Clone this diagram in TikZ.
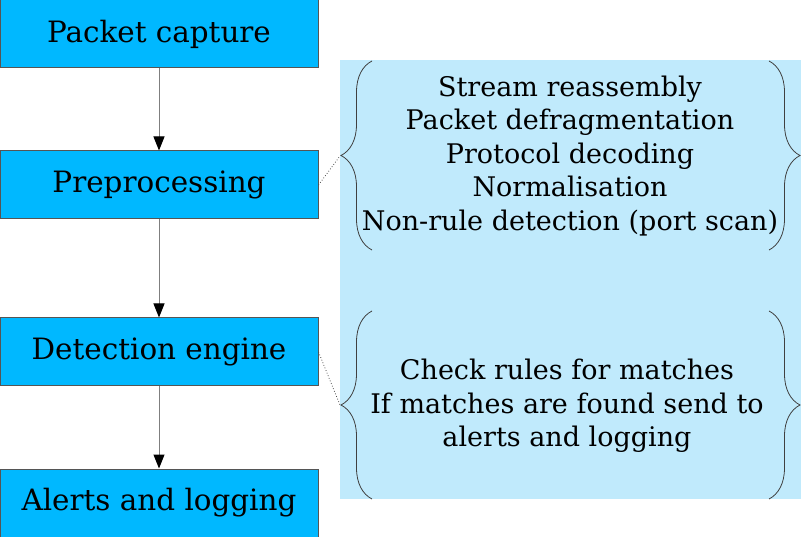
\documentclass[tikz,border=0pt]{standalone}
\usepackage{fontspec}
\setmainfont{DejaVu Serif}
\usepackage{tikz}
\usetikzlibrary{arrows.meta, decorations.pathreplacing}
\usepackage{xcolor}
\definecolor{StageBlue}{HTML}{00B8FF}
\definecolor{NoteBlue}{HTML}{C0EAFC}
\definecolor{EdgeGray}{HTML}{555555}
\definecolor{FlowGray}{HTML}{7F7F7F}

\begin{document}
\begin{tikzpicture}[x=1pt, y=-1pt,
            stage/.style={rectangle, draw=EdgeGray, line width=1pt, fill=StageBlue, minimum width=318pt, minimum height=68pt, inner sep=0pt, font=\fontsize{29.4}{36}\selectfont},
            notebg/.style={rectangle, fill=NoteBlue, inner sep=0pt, minimum width=461pt, minimum height=438pt},
            notes/.style={align=center, inner sep=0pt, font=\fontsize{27}{33.5}\selectfont},
            brace/.style={decorate, decoration={brace, amplitude=31pt}, draw=black!75, line width=0.8pt},
            flow/.style={-{Triangle[length=14pt, width=11pt, black]}, draw=FlowGray, line width=1pt},
            link/.style={dotted, draw=black!70, line width=0.8pt}
        ]
            \useasboundingbox (0,0) rectangle (801,537);

            % Notes background
            \node[notebg] (bg) at (570.5,279.5) {};

            % Pipeline stages
            \node[stage] (capture) at (159,34) {Packet capture};
            \node[stage] (prep) at (159,185) {Preprocessing};
            \node[stage] (detect) at (159,352) {Detection engine};
            \node[stage] (alerts) at (159,503) {Alerts and logging};

            % Stage details
            \node[notes] (prepnotes) at (570,156) {Stream reassembly\\Packet defragmentation\\Protocol decoding\\Normalisation\\Non-rule detection (port scan)};
            \node[notes] (detectnotes) at (567,406) {Check rules for matches\\If matches are found send to\\alerts and logging};

            % Braces
            \draw[brace] (372,250) -- (372,61);
            \draw[brace] (769,61) -- (769,250);
            \draw[brace] (372,499) -- (372,311);
            \draw[brace] (769,311) -- (769,499);
            \coordinate (preptip) at (340,156);
            \coordinate (detecttip) at (340,405);

            % Connections
            \draw[flow] (capture) -- (prep);
            \draw[flow] (prep) -- (detect);
            \draw[flow] (detect) -- (alerts);
            \draw[link] (prep.east) -- (preptip);
            \draw[link] (detect.east) -- (detecttip);
        \end{tikzpicture}
\end{document}
